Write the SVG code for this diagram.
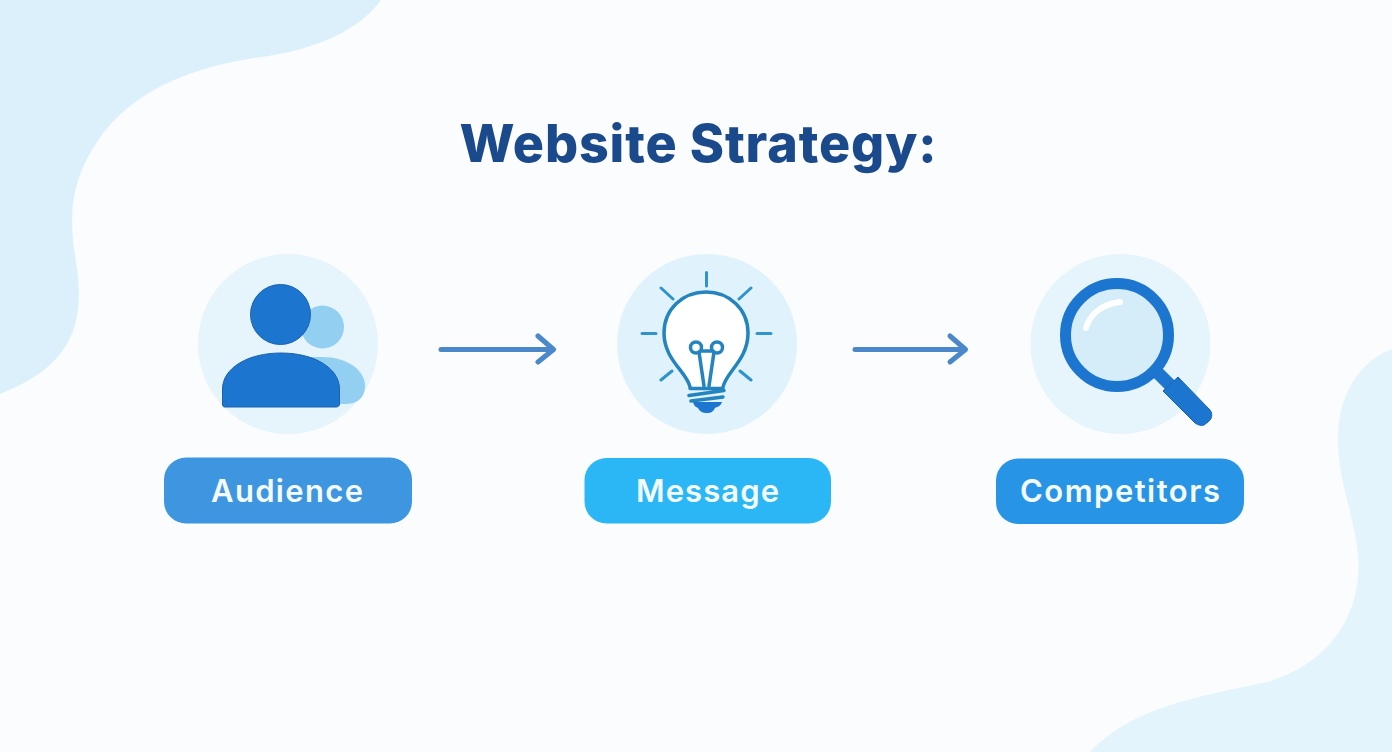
<svg xmlns="http://www.w3.org/2000/svg" width="1392" height="752" viewBox="0 0 1392 752">
<defs>
<style>
.disc{fill:#e6f4fc}
.label{font-family:"Inter","Lato","Liberation Sans",sans-serif;font-weight:600;font-size:31px;fill:#f4fbff;text-anchor:middle}
.title{font-family:"Inter","Lato","Liberation Sans",sans-serif;font-weight:800;font-size:52px;fill:#1b4a8c;text-anchor:middle}
.conn{fill:none;stroke:#4a88c9;stroke-width:5;stroke-linecap:round;stroke-linejoin:round}
.ray{stroke:#2f93cc;stroke-width:3;stroke-linecap:round;fill:none}
.bulb{stroke:#2384bf;stroke-width:3.5;fill:none;stroke-linecap:round;stroke-linejoin:round}
.dark{fill:#1c75cf}
.light{fill:#93cff1}
</style>
</defs>
<rect width="1392" height="752" fill="#fafcfe"/>
<path d="M0 0H381C358 32 312 50 262 57C180 68 122 98 92 150C68 190 70 225 76 262C84 310 76 345 44 370C30 381 14 388 0 394Z" fill="#dcf0fc"/>
<path d="M1392 349C1358 362 1338 396 1338 440C1338 490 1362 530 1358 578C1352 630 1322 664 1268 682C1200 696 1130 708 1090 752H1392Z" fill="#e4f4fc"/>
<text class="title" x="698" y="162" textLength="477" lengthAdjust="spacing">Website Strategy:</text>
<g id="connectors">
<path class="conn" d="M441 349.500H553M538 336L553.500 349.500L538 362"/>
<path class="conn" d="M855 349.500H965M950 336L965.500 349.500L950 362"/>
</g>
<g id="audience">
<circle class="disc" cx="288" cy="344" r="90"/>
<circle class="light" cx="322.500" cy="327" r="21.500"/>
<path class="light" d="M300 357H322C347 357 365 370 365 386C365 398 357 404 345 404H300Z"/>
<circle class="dark" cx="280.500" cy="314.500" r="30" stroke="#1b62ae" stroke-width="1"/>
<path class="dark" d="M222.500 389C222.500 368 248 353 281 353C314 353 339.500 368 339.500 389V404C339.500 406 338 407 336 407H225C223 407 222.500 406 222.500 404Z" stroke="#1b62ae" stroke-width="1"/>
<rect x="164" y="457.500" width="248" height="66" rx="22" fill="#3f96e0"/>
<text class="label" x="287" y="502" textLength="152" lengthAdjust="spacing">Audience</text>
</g>
<g id="message">
<circle cx="707" cy="344" r="90" fill="#e0f3fc"/>
<path class="ray" d="M706.500 272.500V286M661 288L673 299M751 288L739 299M642 333.500H656M757 333.500H771M661 380L672 371M751 380L740 371"/>
<path d="M690 387C687 372 664 360 664 333C664 309 683 292 706 292C729 292 748 309 748 333C748 360 726 372 723 387Z" fill="#fff"/>
<path class="bulb" d="M690 387C687 372 664 360 664 333C664 309 683 292 706 292C729 292 748 309 748 333C748 360 726 372 723 387"/>
<path class="bulb" d="M699 352L704 386M714 352L709 386M701 351L713 351"/>
<circle class="bulb" cx="696" cy="347.500" r="5.500"/>
<circle class="bulb" cx="717" cy="347.500" r="5.500"/>
<path class="bulb" d="M690 388.500H723M689 395.500L724 390.500M691 401L723 397"/>
<path d="M693 402H722C721 406 717 407 715 408C713 412 711 413 707 413C703 413 700 412 698 408C696 407 694 406 693 402Z" fill="#1c75cf"/>
<rect x="584.500" y="458" width="246.500" height="65.500" rx="22" fill="#2bb7f6"/>
<text class="label" x="707.500" y="502" textLength="143" lengthAdjust="spacing">Message</text>
</g>
<g id="competitors">
<circle class="disc" cx="1120.500" cy="344" r="90"/>
<path d="M1157 372L1170 385" stroke="#1c75cf" stroke-width="13" fill="none"/>
<path d="M1163 391L1178 377L1210 410C1213 414 1212 419 1208 422L1204 425C1201 426 1198 425 1195 423Z" fill="#1c75cf" stroke="#1b62ae" stroke-width="1" stroke-linejoin="round"/>
<circle cx="1117" cy="335" r="51.500" fill="#d5ecf9" stroke="#1c75cf" stroke-width="11"/>
<path d="M1086 328C1090 314 1102 304 1120 302" fill="none" stroke="#fff" stroke-width="6" stroke-linecap="round"/>
<rect x="996" y="458.500" width="248" height="65.500" rx="22" fill="#2894e6"/>
<text class="label" x="1120" y="502" textLength="200" lengthAdjust="spacing">Competitors</text>
</g>
</svg>
